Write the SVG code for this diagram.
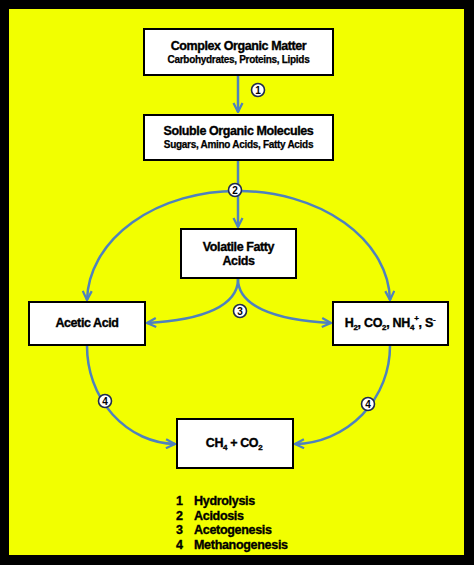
<svg xmlns="http://www.w3.org/2000/svg" width="474" height="565" viewBox="0 0 474 565">
<style>
.box{fill:#fff;stroke:#000;stroke-width:2}
.t{font-family:"Liberation Sans",Arial,sans-serif;font-weight:bold;fill:#000;stroke:#000;stroke-width:0.35;text-anchor:middle}
.c{fill:none;stroke:#4F81BD;stroke-width:2.5}
.n{fill:#fff;stroke:#1F2A50;stroke-width:1.6}
.nt{font-family:"Liberation Sans",Arial,sans-serif;font-weight:bold;font-size:10px;text-anchor:middle;fill:#000}
.lg{font-family:"Liberation Sans",Arial,sans-serif;font-weight:bold;font-size:12.5px;fill:#000;stroke:#000;stroke-width:0.35;letter-spacing:-0.3px}
</style>
<defs>
<marker id="ah" viewBox="0 0 10 10" refX="9" refY="5" markerWidth="4.5" markerHeight="4.5" orient="auto" markerUnits="strokeWidth">
<path d="M1,1 L9,5 L1,9" fill="none" stroke="#4F81BD" stroke-width="2" stroke-linejoin="miter"/>
</marker>
</defs>
<rect x="0" y="0" width="474" height="565" fill="#000"/>
<rect x="9" y="9" width="455" height="546" fill="#F2FF00"/>
<g id="connectors">
<path class="c" d="M238,76 L238,112" marker-end="url(#ah)"/>
<path class="c" d="M238,161 L238,227" marker-end="url(#ah)"/>
<path class="c" d="M238,191 A150,111 0 0 0 87,300" marker-end="url(#ah)"/>
<path class="c" d="M238,191 A152,111 0 0 1 390,300" marker-end="url(#ah)"/>
<path class="c" d="M238,279 C238,305 205,320 147,323" marker-end="url(#ah)"/>
<path class="c" d="M238,279 C238,305 272,320 331,323" marker-end="url(#ah)"/>
<path class="c" d="M87,346 A90,98 0 0 0 175,444" marker-end="url(#ah)"/>
<path class="c" d="M390,346 A97,98 0 0 1 295,444" marker-end="url(#ah)"/>
</g>
<g id="label1"><circle class="n" cx="258" cy="90" r="6.5"/><text class="nt" x="258" y="93.5">1</text></g>
<g id="label2"><circle class="n" cx="235" cy="190" r="6.5"/><text class="nt" x="235" y="193.5">2</text></g>
<g id="label3"><circle class="n" cx="240" cy="311" r="6.5"/><text class="nt" x="240" y="314.5">3</text></g>
<g id="label4a"><circle class="n" cx="105" cy="401" r="6.5"/><text class="nt" x="105" y="404.5">4</text></g>
<g id="label4b"><circle class="n" cx="368" cy="404" r="6.5"/><text class="nt" x="368" y="407.5">4</text></g>
<g id="complex">
<rect class="box" x="144" y="29" width="189" height="46"/>
<text class="t" x="238.5" y="50" font-size="12.5" letter-spacing="-0.4">Complex Organic Matter</text>
<text class="t" x="238.5" y="63" font-size="10" letter-spacing="-0.3" style="stroke-width:0.25">Carbohydrates, Proteins, Lipids</text>
</g>
<g id="soluble">
<rect class="box" x="144" y="115" width="189" height="45"/>
<text class="t" x="238.5" y="135" font-size="12.5" letter-spacing="-0.4">Soluble Organic Molecules</text>
<text class="t" x="238.5" y="148" font-size="10" letter-spacing="-0.3" style="stroke-width:0.25">Sugars, Amino Acids, Fatty Acids</text>
</g>
<g id="vfa">
<rect class="box" x="181" y="229" width="115" height="49"/>
<text class="t" x="238.5" y="251" font-size="12.5" letter-spacing="-0.4">Volatile Fatty</text>
<text class="t" x="238.5" y="265" font-size="12.5" letter-spacing="-0.4">Acids</text>
</g>
<g id="acetic">
<rect class="box" x="29" y="302" width="116" height="43"/>
<text class="t" x="87" y="327" font-size="12.5" letter-spacing="-0.4">Acetic Acid</text>
</g>
<g id="gases">
<rect class="box" x="333" y="302" width="115" height="43"/>
<text class="t" x="390" y="327" font-size="12.5" letter-spacing="-0.3">H<tspan font-size="8" dy="3">2</tspan><tspan dy="-3">, CO</tspan><tspan font-size="8" dy="3">2</tspan><tspan dy="-3">, NH</tspan><tspan font-size="8" dy="3">4</tspan><tspan font-size="8" dy="-9">+</tspan><tspan dy="6">, S</tspan><tspan font-size="8" dy="-5">-</tspan></text>
</g>
<g id="methane">
<rect class="box" x="177" y="419" width="116" height="49"/>
<text class="t" x="234" y="447" font-size="12.5" letter-spacing="-0.4">CH<tspan font-size="8" dy="3">4</tspan><tspan dy="-3"> + CO</tspan><tspan font-size="8" dy="3">2</tspan></text>
</g>
<g id="legend">
<text class="lg" x="176" y="505">1</text><text class="lg" x="194" y="505">Hydrolysis</text>
<text class="lg" x="176" y="519.5">2</text><text class="lg" x="194" y="519.5">Acidosis</text>
<text class="lg" x="176" y="534">3</text><text class="lg" x="194" y="534">Acetogenesis</text>
<text class="lg" x="176" y="548.5">4</text><text class="lg" x="194" y="548.5">Methanogenesis</text>
</g>
</svg>
